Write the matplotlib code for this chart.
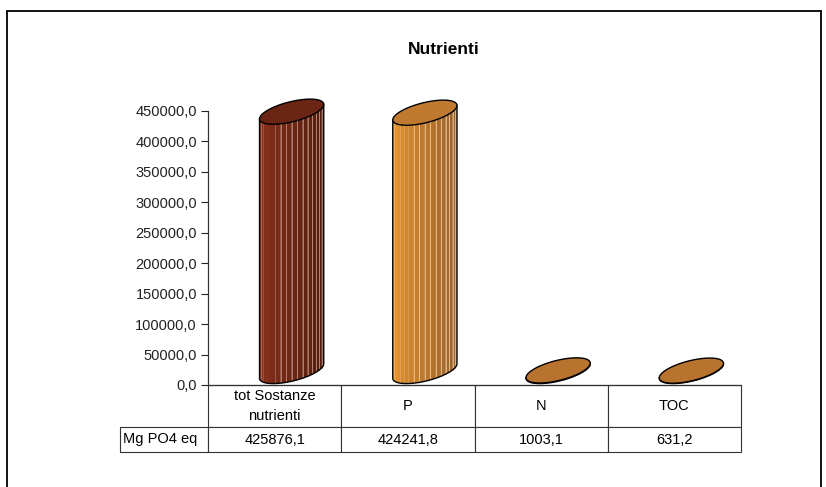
import numpy as np
import matplotlib.pyplot as plt
from matplotlib.patches import Polygon, Rectangle
from matplotlib.colors import to_rgb

plt.rcParams['font.family'] = ['Liberation Sans', 'DejaVu Sans']

# data
categories = ['tot Sostanze\nnutrienti', 'P', 'N', 'TOC']
values = [425876.1, 424241.8, 1003.1, 631.2]
value_labels = ['425876,1', '424241,8', '1003,1', '631,2']
row_label = 'Mg PO4 eq'
yticks = np.arange(0, 450001, 50000)

# colours per cylinder: left of body, right of body, top face, facet lines
body_left = ['#9a3620', '#f9a22e', '#c07a30', '#c07a30']
body_right = ['#4a1a0c', '#8f5a2c', '#8f5a2c', '#8f5a2c']
top_face = ['#6b2514', '#c07a30', '#b8732f', '#b8732f']
facet_line = ['#c89484', '#f3c898', '#e0a870', '#e0a870']

W, H = 826, 487
fig = plt.figure(figsize=(W / 100, H / 100), dpi=100)
ax = fig.add_axes([208 / W, 102 / H, 533 / W, 274 / H])
ax.set_xlim(-0.5, len(categories) - 0.5)
ax.set_ylim(0, 450000)

# pixels per data unit, used for the 3d look
ppx = 533 / len(categories)
ppy = 274 / 450000


def mix(c1, c2, f):
    c1, c2 = np.array(to_rgb(c1)), np.array(to_rgb(c2))
    return tuple(c1 + (c2 - c1) * f)


def cylinder(ax, xc, val, cl, cr, ct, cline, n=18):
    a, b, th = 33, 10, np.radians(14)
    ox, oy = 17, -14  # base centre offset in pixels (y down)
    t = np.linspace(0, 2 * np.pi, 200)
    ex = a * np.cos(t) * np.cos(th) + b * np.sin(t) * np.sin(th)
    ey = -a * np.cos(t) * np.sin(th) + b * np.sin(t) * np.cos(th)
    t0 = np.arctan2(b * np.sin(th), a * np.cos(th))
    ta = np.linspace(t0, t0 + np.pi, 120)
    fx = (a * np.cos(ta) * np.cos(th) + b * np.sin(ta) * np.sin(th))[::-1]
    fy = (-a * np.cos(ta) * np.sin(th) + b * np.sin(ta) * np.cos(th))[::-1]

    def to_data(px, py, lift):
        return xc + (ox + np.asarray(px)) / ppx, -(oy + np.asarray(py)) / ppy + lift

    xext = fx[-1]
    edges = -xext * np.cos(np.linspace(0, np.pi, n + 1))
    edges[0], edges[-1] = fx[0], fx[-1]
    for k in range(n):
        xx = np.linspace(edges[k], edges[k + 1], 8)
        yy = np.interp(xx, fx, fy)
        bx, by = to_data(xx, yy, 0)
        tx, ty = to_data(xx[::-1], yy[::-1], val)
        col = mix(cl, cr, (k / (n - 1)) ** 0.8)
        ax.add_patch(Polygon(np.column_stack([np.r_[bx, tx], np.r_[by, ty]]),
                             closed=True, fc=col, ec='none', clip_on=False, zorder=3))
        if k > n * 0.35:
            lx, ly = to_data([edges[k], edges[k]], [np.interp(edges[k], fx, fy)] * 2, 0)
            ax.plot(lx, [ly[0], ly[0] + val], color=cline, lw=0.7, alpha=0.8,
                    clip_on=False, zorder=3.5)
    # silhouette
    bx, by = to_data(fx, fy, 0)
    ax.plot(np.r_[bx[0], bx, bx[-1]], np.r_[by[0] + val, by, by[-1] + val],
            color='black', lw=1.0, clip_on=False, zorder=4)
    # top face
    tx, ty = to_data(ex, ey, val)
    ax.add_patch(Polygon(np.column_stack([tx, ty]), closed=True, fc=ct, ec='black',
                         lw=1.0, clip_on=False, zorder=5))


for i, v in enumerate(values):
    cylinder(ax, i, v, body_left[i], body_right[i], top_face[i], facet_line[i])

ax.set_yticks(yticks)
ax.set_yticklabels([f'{v:.1f}'.replace('.', ',') for v in yticks])
ax.set_xticks([])
ax.tick_params(axis='y', direction='out', length=5, width=0.8, colors='#222222',
               labelsize=10.5, pad=3)
for s in ['top', 'right']:
    ax.spines[s].set_visible(False)
for s in ['left', 'bottom']:
    ax.spines[s].set_color('#333333')
    ax.spines[s].set_linewidth(0.9)

# data table under the axis (bbox covers the value columns only)
tab = ax.table(cellText=[value_labels], rowLabels=[row_label], colLabels=categories,
               cellLoc='center', rowLoc='left', colLoc='center',
               colWidths=[0.25] * len(categories),
               bbox=[0, -67 / 274, 1, 67 / 274])
tab._autoColumns = []  # keep the row label width fixed
tab.auto_set_font_size(False)
tab.set_fontsize(10.5)
for (r, c), cell in tab.get_celld().items():
    cell.set_edgecolor('#333333')
    cell.set_linewidth(0.8)
    cell.set_height(42 if r == 0 else 25)
    if r == 0:
        cell.get_text().set_linespacing(1.6)
    if c == -1:
        cell.set_width(0.25 * 88 / ppx)
        cell.PAD = 0.03

fig.text(444 / W, 1 - 49 / H, 'Nutrienti', ha='center', va='center',
         fontsize=12.5, fontweight='bold')

fig.add_artist(Rectangle((7 / W, -0.05), (821 - 7) / W, 1.05 - 11 / H,
                         transform=fig.transFigure, fill=False, ec='black', lw=1.3))

fig.savefig('out.png', dpi=100)
